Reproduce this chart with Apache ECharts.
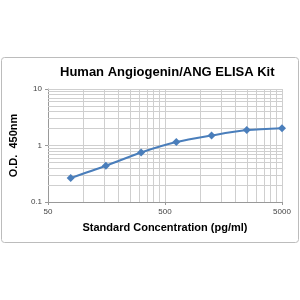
<!DOCTYPE html>
<html><head><meta charset="utf-8">
<script src="https://cdn.jsdelivr.net/npm/echarts@6/dist/echarts.min.js"></script>
<style>html,body{margin:0;padding:0;background:#fff}#c{width:300px;height:300px}</style>
</head><body><div id="c"></div>
<script>
var concentrations = [78.125, 156.25, 312.5, 625, 1250, 2500, 5000];
var odValues = [0.265, 0.437, 0.752, 1.149, 1.503, 1.873, 2.03];
var xLabels = [50, 500, 5000];
var yLabels = [0.1, 1, 10];
var xGrid = [100,150,200,250,300,350,400,450,500,1000,1500,2000,2500,3000,3500,4000,4500,5000];
var yGrid = [0.2,0.3,0.4,0.5,0.6,0.7,0.8,0.9,1,2,3,4,5,6,7,8,9,10];
var title = 'Human Angiogenin/ANG ELISA Kit';
var xName = 'Standard Concentration (pg/ml)';
var yName = 'O.D.  450nm';

var chart = echarts.init(document.getElementById('c'), null, {renderer:'canvas'});
var data = concentrations.map(function(c,i){return [c, odValues[i]];});
var gridLines = xGrid.map(function(v){return {xAxis:v};}).concat(yGrid.map(function(v){return {yAxis:v};}));
var fontFam = 'Liberation Sans, Arial';
chart.setOption({
  animation:false,
  graphic:[{type:'rect', shape:{x:1.5,y:57.5,width:297,height:185,r:3}, style:{fill:'none',stroke:'#bcbcbc',lineWidth:1}, z:-10}],
  title:{text:title, left:55, top:61, textStyle:{fontFamily:fontFam, fontWeight:'bold', fontSize:13, color:'#000'}},
  grid:{left:46, right:18, top:89, bottom:98, containLabel:false},
  xAxis:{type:'log', logBase:10, min:50, max:5000,
    name:xName, nameLocation:'middle', nameGap:20,
    nameTextStyle:{fontFamily:fontFam, fontWeight:'bold', fontSize:11, color:'#000'},
    axisLine:{show:true, lineStyle:{color:'#999', width:1}},
    axisTick:{show:true, customValues:xLabels, length:3, inside:false, lineStyle:{color:'#999'}},
    axisLabel:{customValues:xLabels, formatter:function(v){return String(v);}, fontFamily:fontFam, fontSize:8, color:'#444', margin:6},
    splitLine:{show:false},
    minorTick:{show:false}, minorSplitLine:{show:false}
  },
  yAxis:{type:'log', logBase:10, min:0.1, max:10,
    name:yName, nameLocation:'middle', nameGap:29, nameRotate:90,
    nameTextStyle:{fontFamily:fontFam, fontWeight:'bold', fontSize:11, color:'#000'},
    axisLine:{show:true, lineStyle:{color:'#999', width:1}},
    axisTick:{show:true, customValues:yLabels, length:3, inside:false, lineStyle:{color:'#999'}},
    axisLabel:{customValues:yLabels, formatter:function(v){return String(v);}, fontFamily:fontFam, fontSize:8, color:'#444', margin:6},
    splitLine:{show:false},
    minorTick:{show:false}, minorSplitLine:{show:false}
  },
  series:[
    {type:'line', data:[], z:1, silent:true,
      markLine:{silent:true, symbol:['none','none'], label:{show:false}, animation:false,
        lineStyle:{color:'#cfcfcf', width:1, type:'solid'},
        emphasis:{disabled:true},
        data:gridLines}},
    {type:'line', data:data, zlevel:1, z:3, smooth:0.3, symbol:'diamond', symbolSize:8,
      lineStyle:{color:'#4a7ebb', width:2}, itemStyle:{color:'#4a7ebb', borderWidth:0}}]
});
</script></body></html>
